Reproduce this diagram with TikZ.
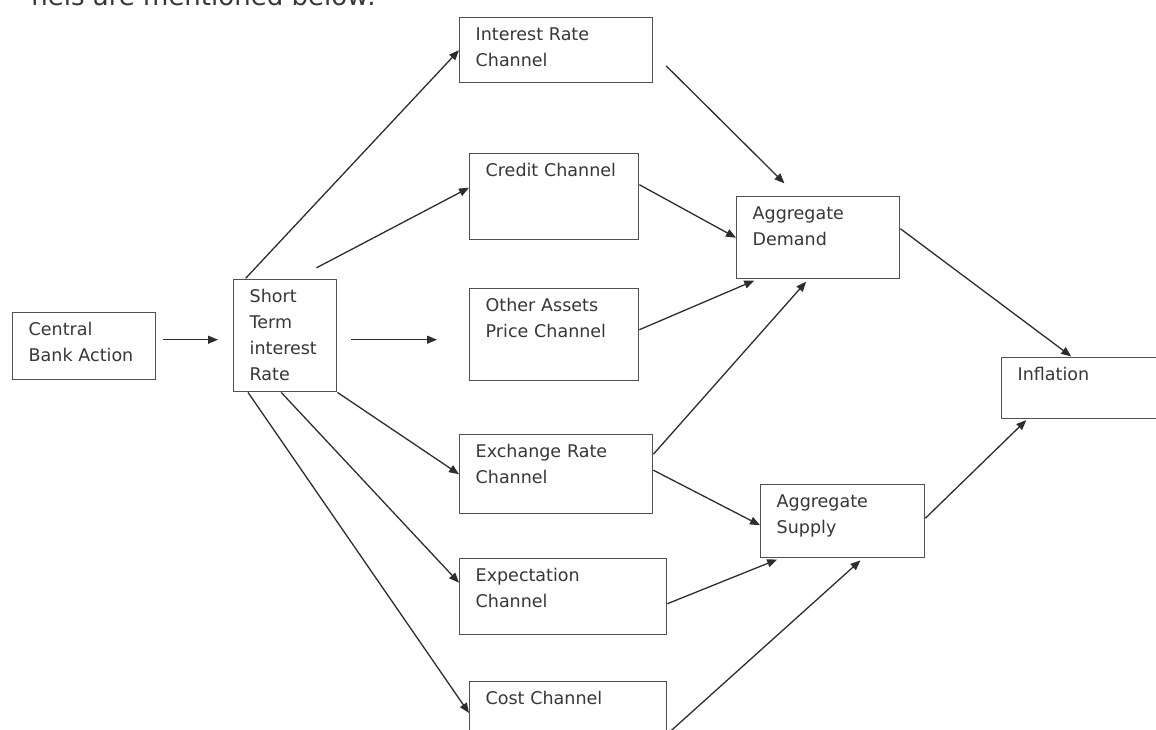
\documentclass[tikz,border=0pt]{standalone}
\usepackage{fontspec}
\setmainfont{DejaVu Sans}
\usepackage{xcolor}
\definecolor{boxgray}{RGB}{80, 80, 80}
\definecolor{linedark}{RGB}{45, 45, 45}
\definecolor{txtdark}{RGB}{55, 55, 55}
\usetikzlibrary{arrows.meta}

\begin{document}
\begin{tikzpicture}[
        x=1pt, y=-1pt,
        channel/.style={
            rectangle,
            draw=boxgray,
            line width=1.4pt,
            fill=white,
            anchor=north west,
            inner xsep=16pt,
            inner ysep=0pt,
            text height=23pt,
            align=left,
            text=txtdark,
            font=\fontsize{17.5}{26}\selectfont
        },
        arrow/.style={-{Triangle[length=10pt, width=8pt]}, line width=1.3pt, color=linedark}
    ]
        \useasboundingbox (0,0) rectangle (1156,729);
        \clip (0,0) rectangle (1156,729);

        \node[anchor=base east, inner sep=0pt, text=txtdark, font=\fontsize{26}{30}\selectfont] (intro) at (376,5) {nels are mentioned below:};

        \node[channel, text width=111pt, text depth=44pt] (bank) at (12,312) {Central\\Bank Action};
        \node[channel, text width=71pt, text depth=89pt] (short) at (233,279) {Short\\Term\\interest\\Rate};
        \node[channel, text width=161pt, text depth=42pt] (irate) at (459,17) {Interest Rate\\Channel};
        \node[channel, text width=137pt, text depth=63pt] (credit) at (469,153) {Credit Channel};
        \node[channel, text width=137pt, text depth=69pt] (assets) at (469,288) {Other Assets\\Price Channel};
        \node[channel, text width=161pt, text depth=56pt] (exch) at (459,434) {Exchange Rate\\Channel};
        \node[channel, text width=175pt, text depth=53pt] (expect) at (459,558) {Expectation\\Channel};
        \node[channel, text width=165pt, text depth=57pt] (cost) at (469,681) {Cost Channel};
        \node[channel, text width=131pt, text depth=59pt] (demand) at (736,196) {Aggregate\\Demand};
        \node[channel, text width=132pt, text depth=50pt] (supply) at (760,484) {Aggregate\\Supply};
        \node[channel, text width=143pt, text depth=38pt] (infl) at (1001,357) {Inflation};

        \draw[arrow, shorten <=7pt, shorten >=15pt] ([yshift=6.5pt]bank.east) -- ([yshift=-4pt]short.west);
        \draw[arrow, shorten <=1pt] ([xshift=12pt]short.north west) -- (irate.west);
        \draw[arrow, shorten <=24pt] ([xshift=10pt]short.north) -- ([yshift=9pt]credit.west);
        \draw[arrow, shorten <=14pt, shorten >=32pt] ([yshift=-4pt]short.east) -- ([yshift=-5pt]assets.west);
        \draw[arrow] (short.south east) -- (exch.west);
        \draw[arrow] ([xshift=-4pt]short.south) -- ([yshift=14pt]expect.west);
        \draw[arrow] ([xshift=15pt]short.south west) -- ([yshift=-32pt]cost.north west);

        \draw[arrow, shorten <=18pt, shorten >=18pt] ([yshift=-3pt]irate.east) -- ([xshift=-21pt]demand.north);
        \draw[arrow] ([yshift=12pt]credit.east) -- (demand.west);
        \draw[arrow, shorten >=3pt] ([yshift=5pt]assets.east) -- ([xshift=21pt]demand.south west);
        \draw[arrow, shorten >=3pt] ([yshift=20pt]exch.east) -- ([xshift=-10pt]demand.south);
        \draw[arrow] ([yshift=4pt]exch.east) -- ([yshift=-4pt]supply.west);
        \draw[arrow, shorten >=3pt] ([yshift=-7pt]expect.east) -- ([xshift=20pt]supply.south west);
        \draw[arrow, shorten >=3pt] ([yshift=-53pt]cost.north east) -- ([xshift=20pt]supply.south);

        \draw[arrow, shorten >=1pt] ([yshift=9pt]demand.east) -- ([xshift=71pt]infl.north west);
        \draw[arrow, shorten >=1pt] ([yshift=3pt]supply.east) -- ([xshift=26pt]infl.south west);

    \end{tikzpicture}
\end{document}
